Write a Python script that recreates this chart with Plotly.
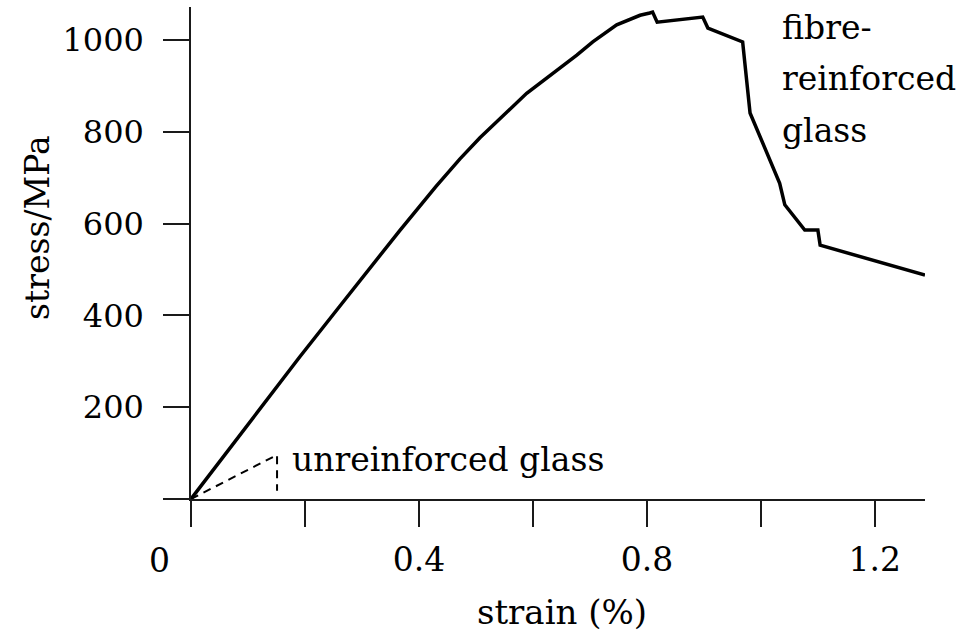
import plotly.graph_objects as go

# Fibre-reinforced glass curve (strain %, stress MPa)
fibre_strain = [0, 0.126, 0.191, 0.261, 0.367, 0.43, 0.472, 0.507, 0.589, 0.677, 0.705, 0.747,
                0.788, 0.805, 0.810, 0.818, 0.898, 0.907, 0.968, 0.981, 1.033, 1.042,
                1.077, 1.100, 1.104, 1.288]
fibre_stress = [0, 206, 310, 420, 586, 681, 741, 787, 884, 967, 996, 1033,
                1054, 1059, 1061, 1039, 1050, 1026, 996, 841, 688, 641,
                586, 586, 553, 488]

# Unreinforced glass (dashed)
glass_strain = [0, 0.151, 0.151]
glass_stress = [0, 96, 18]

x_tickvals = [0, 0.2, 0.4, 0.6, 0.8, 1.0, 1.2]
x_ticktext = ["", "", "0.4", "", "0.8", "", "1.2"]
y_tickvals = [0, 200, 400, 600, 800, 1000]
y_ticktext = ["", "200", "400", "600", "800", "1000"]

FONT = "DejaVu Serif"

fig = go.Figure()
fig.add_trace(go.Scatter(x=fibre_strain, y=fibre_stress, mode="lines",
                         line=dict(color="black", width=3.5), cliponaxis=False,
                         showlegend=False))
fig.add_trace(go.Scatter(x=glass_strain, y=glass_stress, mode="lines",
                         line=dict(color="black", width=2, dash="8px,6px"),
                         showlegend=False))

axis_common = dict(showgrid=False, zeroline=False, showline=True, linecolor="#1a1a1a",
                   linewidth=1.5, ticks="outside", ticklen=26, tickwidth=1.5,
                   tickcolor="#1a1a1a")

fig.update_xaxes(range=[0, 1.288], tickvals=x_tickvals, ticktext=x_ticktext,
                 tickfont=dict(family=FONT, size=33, color="black"),
                 ticklabelstandoff=5, **axis_common)
fig.update_yaxes(range=[0, 1072], tickvals=y_tickvals, ticktext=y_ticktext,
                 tickfont=dict(family=FONT, size=32, color="black"),
                 ticklabelstandoff=13, **axis_common)

annots = [
    dict(x=0, y=0, xref="x", yref="y", text="0", showarrow=False, xshift=-32, yshift=-61,
         font=dict(family=FONT, size=33, color="black")),
    dict(x=0.5054, y=-0.2297, xref="paper", yref="paper", text="strain (%)", showarrow=False,
         xanchor="center", yanchor="middle", font=dict(family=FONT, size=34, color="black")),
    dict(x=-0.2084, y=0.551, xref="paper", yref="paper", text="stress/MPa", showarrow=False,
         textangle=-90, xanchor="center", yanchor="middle",
         font=dict(family=FONT, size=33, color="black")),
    dict(x=0.174, y=87, xref="x", yref="y", text="unreinforced glass", showarrow=False,
         xanchor="left", yanchor="middle", font=dict(family=FONT, size=33, color="black")),
]
for txt, yv in [("fibre-", 1028), ("reinforced", 917), ("glass", 804)]:
    annots.append(dict(x=1.033, y=yv, xref="x", yref="y", text=txt, showarrow=False,
                       xanchor="left", yanchor="middle",
                       font=dict(family=FONT, size=33, color="black")))

fig.update_layout(width=966, height=637, margin=dict(l=191, r=41, t=7, b=138),
                  plot_bgcolor="white", paper_bgcolor="white", annotations=annots)

fig.write_html("out.html")
